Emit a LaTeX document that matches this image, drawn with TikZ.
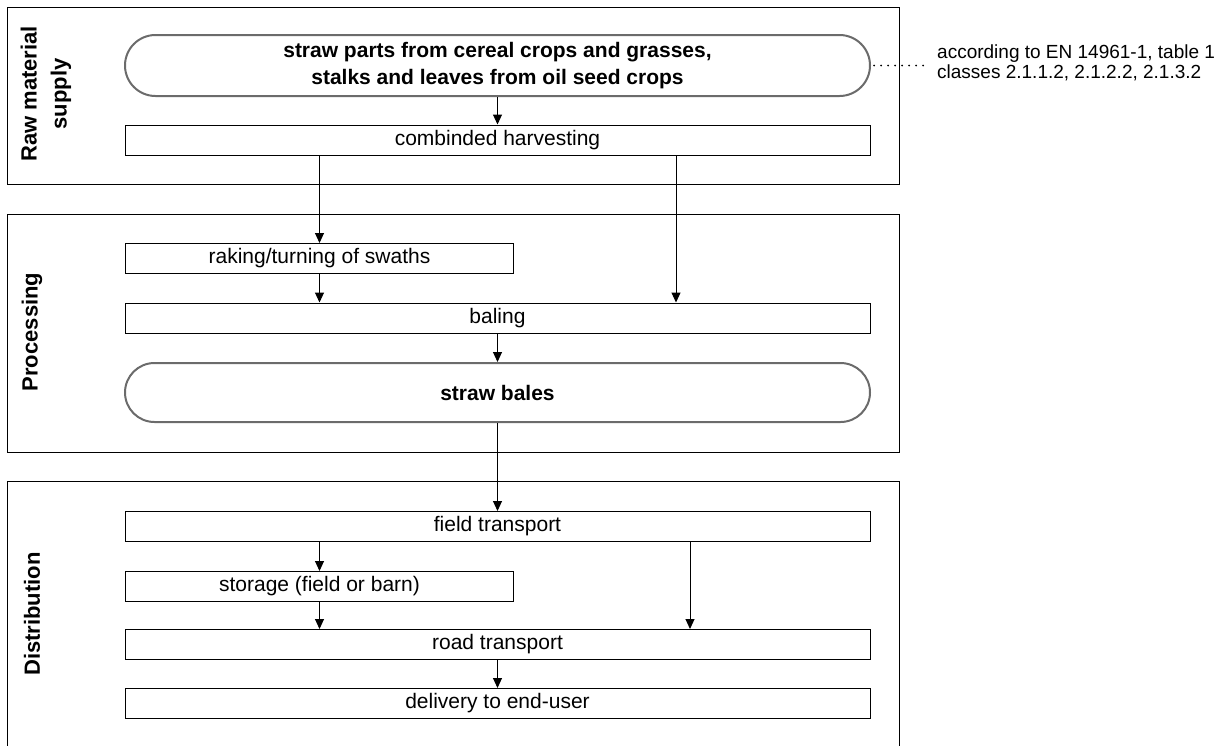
\documentclass[tikz,border=0pt]{standalone}
\usepackage{fontspec}
\setmainfont{Liberation Sans}
\usetikzlibrary{arrows.meta}
\begin{document}
\begin{tikzpicture}[x=1pt,y=-1pt,
  panel/.style={draw=black,line width=1pt},
  stepbox/.style={draw=black,line width=1pt,minimum width=745pt,minimum height=30pt,
    inner sep=0pt,font=\fontsize{21}{24}\selectfont},
  halfbox/.style={stepbox,minimum width=388pt},
  stadium/.style={draw=black!58,line width=2pt,rounded corners=29.5pt,minimum width=745pt,
    inner sep=0pt,align=center,font=\bfseries\fontsize{21}{27}\selectfont},
  sidelabel/.style={rotate=90,align=center,font=\bfseries\fontsize{22}{30}\selectfont},
  arr/.style={draw=black,line width=1pt,-{Triangle[width=9pt,length=10pt]}},
  link/.style={draw=black,line width=1pt}]
\useasboundingbox (0,0) rectangle (1221,745);
\clip (0,0) rectangle (1221,745);

% the three stage panels
\draw[panel] (7,7) rectangle (899,184);
\draw[panel] (7,214) rectangle (899,452);
\draw[panel] (7,481) rectangle (899,770);

% stage titles
\node[sidelabel] (tRaw) at (46,94) {Raw material\\supply};
\node[sidelabel] (tProc) at (32,332) {Processing};
\node[sidelabel] (tDist) at (32,614) {Distribution};

% raw material supply
\node[stadium,minimum height=61pt,rounded corners=30.5pt] (src) at (497.5,65.5)
  {straw parts from cereal crops and grasses,\\stalks and leaves from oil seed crops};
\node[stepbox] (harv) at (497.5,140) {combinded harvesting};

% note on the raw material
\node[anchor=west,align=left,inner sep=0pt,font=\fontsize{19}{20}\selectfont] (note) at (937,63)
  {according to EN 14961-1, table 1\\classes 2.1.1.2, 2.1.2.2, 2.1.3.2};
\draw[black,line width=2pt,line cap=round,dash pattern=on 0pt off 7pt]
  ([xshift=3pt]src.east) -- ([xshift=-12pt]note.west |- src.east);

% processing
\node[halfbox,anchor=north west] (rake) at (125,243) {raking/turning of swaths};
\node[stepbox] (bale) at (497.5,318) {baling};
\node[stadium,minimum height=59pt] (bales) at (497.5,392.5) {straw bales};

% distribution
\node[stepbox] (field) at (497.5,526.5) {field transport};
\node[halfbox,anchor=north west] (store) at (125,571) {storage (field or barn)};
\node[stepbox] (road) at (497.5,644.5) {road transport};
\node[stepbox] (deliv) at (497.5,703.5) {delivery to end-user};

% flow
\draw[arr] (src.south) -- (harv.north);
\draw[arr] (harv.south -| rake.north) -- (rake.north);
\draw[arr] ([xshift=178.5pt]harv.south) -- ([xshift=178.5pt]bale.north);
\draw[arr] (rake.south) -- (bale.north -| rake.south);
\draw[arr] (bale.south) -- (bales.north);
\draw[arr] (bales.south) -- (field.north);
\draw[arr] (field.south -| store.north) -- (store.north);
\draw[arr] ([xshift=192.5pt]field.south) -- ([xshift=192.5pt]road.north);
\draw[arr] (store.south) -- (road.north -| store.south);
\draw[arr] (road.south) -- (deliv.north);
\end{tikzpicture}
\end{document}
